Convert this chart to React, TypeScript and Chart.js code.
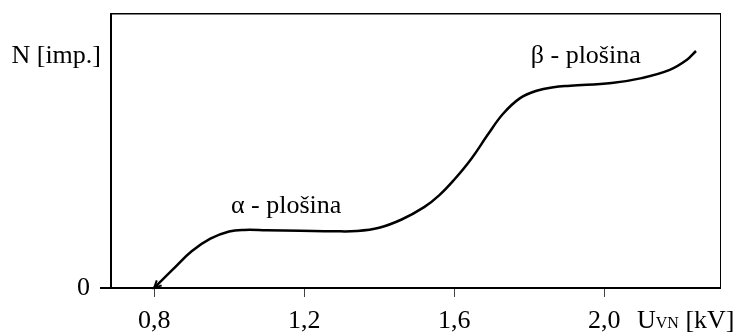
import { useEffect, useRef } from 'react';
import { Chart, registerables } from 'chart.js';

Chart.register(...registerables);

// Counting curve of a proportional counter: count rate vs. high voltage
const voltageKV = [
  0.80, 0.85, 0.90, 0.95, 1.00, 1.04, 1.10, 1.19, 1.28, 1.34, 1.40, 1.46, 1.52,
  1.56, 1.60, 1.645, 1.69, 1.73, 1.775, 1.82, 1.865, 1.91, 2.02, 2.10, 2.175, 2.22, 2.245,
];
const counts = [
  0, 6.8, 13.4, 18.0, 20.6, 21.2, 21.1, 20.9, 20.7, 20.8, 22.0, 25.0, 29.5,
  33.8, 39.5, 47.0, 56.0, 63.5, 69.2, 72.0, 73.3, 73.8, 74.8, 76.6, 79.6, 83.2, 86.5,
];

const xTickValues = [0.8, 1.2, 1.6, 2.0];
const xTickLabels = ['0,8', '1,2', '1,6', '2,0'];
const yTickValues = [0];
const yTickLabels = ['0'];

const plateauLabels = [
  { text: 'α - plošina', x: 1.152, y: 27.4 },
  { text: 'β - plošina', x: 1.951, y: 82.1 },
];
const yTitle = { text: 'N [imp.]', y: 82.1 };

const SERIF = "'Liberation Serif', 'Times New Roman', serif";

const textPlugin = {
  id: 'curveText',
  afterDraw(chart: any) {
    const { ctx, chartArea } = chart;
    const xs = chart.scales.x;
    const ys = chart.scales.y;
    ctx.save();
    ctx.fillStyle = '#000';
    ctx.textBaseline = 'alphabetic';

    // plateau names next to the curve
    ctx.font = `26px ${SERIF}`;
    ctx.textAlign = 'center';
    plateauLabels.forEach((l) => {
      ctx.fillText(l.text, xs.getPixelForValue(l.x), ys.getPixelForValue(l.y));
    });

    // vertical axis name, written horizontally at the top left
    ctx.textAlign = 'right';
    ctx.fillText(yTitle.text, chartArea.left - 10, ys.getPixelForValue(yTitle.y));

    // horizontal axis name with subscript-style VN
    ctx.textAlign = 'left';
    let px = chartArea.right - 83;
    const py = chartArea.bottom + 40;
    ctx.font = `26px ${SERIF}`;
    ctx.fillText('U', px, py);
    px += ctx.measureText('U').width;
    ctx.font = `16px ${SERIF}`;
    ctx.fillText('VN', px, py);
    px += ctx.measureText('VN').width;
    ctx.font = `26px ${SERIF}`;
    ctx.fillText(' [kV]', px, py);

    // small arrow head at the start of the curve
    const pts = chart.getDatasetMeta(0).data;
    if (pts.length > 1) {
      const tip = pts[0];
      const nxt = pts[1];
      const ang = Math.atan2(tip.y - nxt.y, tip.x - nxt.x);
      const len = 8;
      ctx.strokeStyle = '#000';
      ctx.lineWidth = 2;
      ctx.beginPath();
      ctx.moveTo(tip.x - len * Math.cos(ang - 0.45), tip.y - len * Math.sin(ang - 0.45));
      ctx.lineTo(tip.x, tip.y);
      ctx.lineTo(tip.x - len * Math.cos(ang + 0.45), tip.y - len * Math.sin(ang + 0.45));
      ctx.stroke();
    }
    ctx.restore();
  },
};

export default function App() {
  const canvasRef = useRef<HTMLCanvasElement | null>(null);

  useEffect(() => {
    if (!canvasRef.current) return;
    const chart = new Chart(canvasRef.current, {
      type: 'line',
      data: {
        datasets: [
          {
            data: voltageKV.map((v, i) => ({ x: v, y: counts[i] })),
            borderColor: '#000',
            borderWidth: 2.5,
            pointRadius: 0,
            fill: false,
            tension: 0.4,
          },
        ],
      },
      options: {
        animation: false,
        responsive: false,
        events: [],
        layout: { padding: { left: 0, top: 14, right: 17, bottom: 0 } },
        plugins: { legend: { display: false }, tooltip: { enabled: false } },
        scales: {
          x: {
            type: 'linear',
            min: 0.685,
            max: 2.309,
            afterBuildTicks: (s: any) => {
              s.ticks = xTickValues.map((value) => ({ value }));
            },
            afterFit: (s: any) => {
              s.height = 45;
              s.paddingLeft = 0;
              s.paddingRight = 0;
            },
            grid: {
              display: true,
              drawOnChartArea: false,
              drawTicks: true,
              tickLength: 9,
              tickColor: '#444',
              lineWidth: 1,
            },
            border: { display: true, color: '#000', width: 2 },
            ticks: {
              autoSkip: false,
              maxRotation: 0,
              padding: 9,
              color: '#000',
              font: { family: SERIF, size: 26 },
              callback: (_v: any, i: number) => xTickLabels[i],
            },
          },
          y: {
            type: 'linear',
            min: 0,
            max: 100,
            afterBuildTicks: (s: any) => {
              s.ticks = yTickValues.map((value) => ({ value }));
            },
            afterFit: (s: any) => {
              s.width = 111;
              s.paddingTop = 0;
              s.paddingBottom = 0;
            },
            grid: {
              display: true,
              drawOnChartArea: false,
              drawTicks: true,
              tickLength: 11,
              tickColor: '#000',
              lineWidth: 2,
            },
            border: { display: true, color: '#000', width: 2 },
            ticks: {
              padding: 10,
              color: '#000',
              font: { family: SERIF, size: 26 },
              callback: (_v: any, i: number) => yTickLabels[i],
            },
          },
          x2: {
            type: 'linear',
            position: 'top',
            afterFit: (s: any) => {
              s.height = 0;
              s.paddingLeft = 0;
              s.paddingRight = 0;
            },
            grid: { display: false, drawTicks: false },
            ticks: { display: false },
            border: { display: true, color: '#000', width: 1.5 },
          },
          y2: {
            type: 'linear',
            position: 'right',
            afterFit: (s: any) => {
              s.width = 0;
              s.paddingTop = 0;
              s.paddingBottom = 0;
            },
            grid: { display: false, drawTicks: false },
            ticks: { display: false },
            border: { display: true, color: '#000', width: 1 },
          },
        },
      },
      plugins: [textPlugin],
    } as any);
    return () => chart.destroy();
  }, []);

  return (
    <canvas
      ref={canvasRef}
      width={737}
      height={333}
      style={{ position: 'absolute', left: 0, top: 0, display: 'block', background: '#fff' }}
    />
  );
}
